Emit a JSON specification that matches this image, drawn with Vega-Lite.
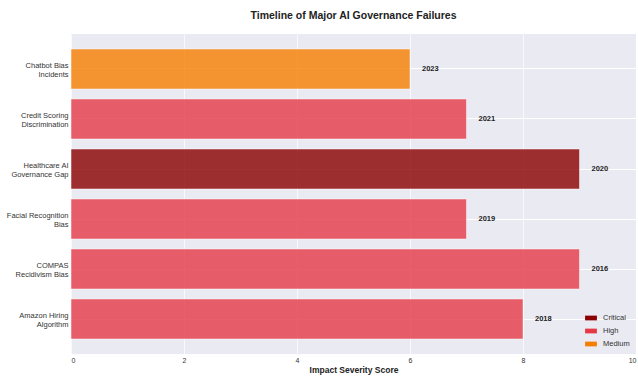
{
  "$schema": "https://vega.github.io/schema/vega-lite/v6.json",
  "autosize": "none",
  "width": 565,
  "height": 320,
  "padding": {"left": 71, "top": 34, "right": 2, "bottom": 22},
  "background": "white",
  "title": {"text": "Timeline of Major AI Governance Failures", "fontSize": 10.5, "fontWeight": "bold", "font": "Liberation Sans", "color": "#222", "offset": 13, "anchor": "middle"},
  "config": {
    "view": {"fill": "#EAEAF2", "stroke": null},
    "font": "Liberation Sans"
  },
  "data": {"values": [
    {"incident": "Chatbot Bias\nIncidents", "score": 6, "year": "2023", "severity": "Medium"},
    {"incident": "Credit Scoring\nDiscrimination", "score": 7, "year": "2021", "severity": "High"},
    {"incident": "Healthcare AI\nGovernance Gap", "score": 9, "year": "2020", "severity": "Critical"},
    {"incident": "Facial Recognition\nBias", "score": 7, "year": "2019", "severity": "High"},
    {"incident": "COMPAS\nRecidivism Bias", "score": 9, "year": "2016", "severity": "High"},
    {"incident": "Amazon Hiring\nAlgorithm", "score": 8, "year": "2018", "severity": "High"}
  ]},
  "encoding": {
    "y": {"field": "incident", "type": "nominal", "sort": null,
      "scale": {"paddingInner": 0.2, "paddingOuter": 0.3},
      "axis": {"title": null, "domain": false, "ticks": false, "labelPadding": 3, "labelFontSize": 7.5, "labelColor": "#333", "labelExpr": "split(datum.label, '\\n')", "labelLineHeight": 8.5, "labelOffset": -3, "grid": true, "tickBand": "center", "gridColor": "white", "gridWidth": 1, "labelBaseline": "middle"}},
    "x": {"field": "score", "type": "quantitative",
      "scale": {"domain": [0, 10], "nice": false},
      "axis": {"title": "Impact Severity Score", "titleFontSize": 8.5, "titleFontWeight": "bold", "titleColor": "#222", "titlePadding": 2, "values": [0,2,4,6,8,10], "labelFontSize": 7, "labelColor": "#333", "domain": false, "ticks": false, "labelPadding": 2, "gridColor": "white", "gridWidth": 1, "gridOpacity": 0.7}}
  },
  "layer": [
    {"mark": {"type": "bar", "opacity": 0.8, "stroke": "white", "strokeWidth": 1, "strokeOpacity": 0.5},
     "encoding": {"color": {"field": "severity", "type": "nominal",
        "scale": {"domain": ["Critical", "High", "Medium"], "range": ["#8B0000", "#E63946", "#F77F00"]},
        "legend": {"title": null, "orient": "bottom-right", "offset": 6, "symbolType": "M-1,-0.4H1V0.4H-1Z", "symbolSize": 140, "symbolOpacity": 1, "symbolStrokeWidth": 0, "labelFontSize": 7.5, "labelColor": "#333", "rowPadding": 3, "labelOffset": 6}}}},
    {"mark": {"type": "text", "align": "left", "dx": 12, "fontSize": 7.5, "fontWeight": "bold", "color": "#222", "baseline": "middle"},
     "encoding": {"text": {"field": "year"}}}
  ]
}
